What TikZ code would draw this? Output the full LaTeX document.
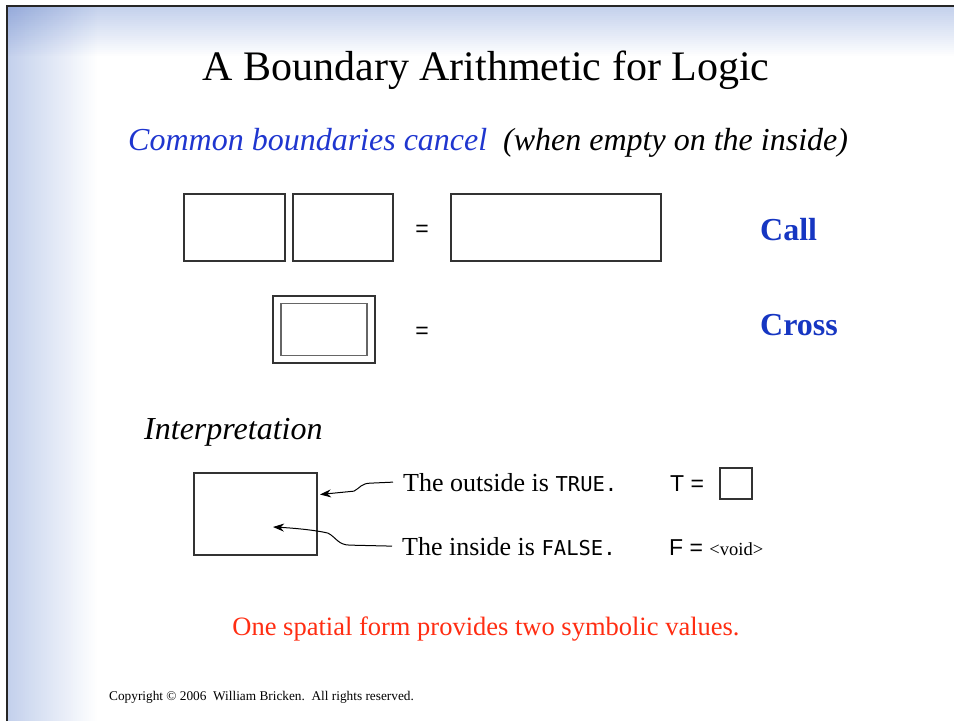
\documentclass[tikz,border=0pt]{standalone}
\usepackage{fontspec}
\setmainfont{Liberation Serif}
\setsansfont{Liberation Sans}
\setmonofont{DejaVu Sans Mono}
\usetikzlibrary{arrows.meta, positioning, calc}
\definecolor{slideblue}{HTML}{C3D0EC}
\definecolor{textblue}{HTML}{1F36CF}
\definecolor{callblue}{HTML}{1636C2}
\definecolor{notered}{HTML}{FF2D12}
\definecolor{boxgray}{HTML}{333333}

\tikzset{
  box/.style={draw=boxgray, line width=1.1pt, inner sep=0pt, outer sep=0pt},
  eqsign/.style={font=\sffamily\fontsize{23}{26}\selectfont},
  linetext/.style={font=\fontsize{26}{30}\selectfont, anchor=base west, inner xsep=10pt, inner ysep=0pt},
  pointer/.style={-{Stealth[length=11pt, width=8pt]}, line width=1pt},
}
\newcommand{\logicword}[1]{{\ttfamily\fontsize{20.5}{24}\selectfont #1}}

\begin{document}
\begin{tikzpicture}[x=1pt, y=-1pt]
  % slide background
  \useasboundingbox (0,0) rectangle (954,721);
  \foreach \i in {0,...,25} {
    \pgfmathsetmacro\p{100-\i*4}
    \fill[slideblue!\p!white] (7,6+2*\i) rectangle (954,8.6+2*\i);
  }
  \foreach \i in {0,...,45} {
    \pgfmathsetmacro\p{100-\i*100/45}
    \fill[slideblue!\p!white, blend mode=multiply] (7+2*\i,6) rectangle (9+2*\i,721);
  }
  \draw[line width=1.5pt, black!85] (7,721) -- (7,6) -- (954,6);

  % headings
  \node[font=\fontsize{42}{48}\selectfont, anchor=base] (title) at (486,80) {A Boundary Arithmetic for Logic};
  \node[font=\itshape\fontsize{32}{38}\selectfont, textblue, anchor=base west, inner sep=0pt] (rule) at (128,150) {Common boundaries cancel};
  \node[font=\itshape\fontsize{32}{38}\selectfont, anchor=base west, inner sep=0pt] (when) at (503,150) {(when empty on the inside)};

  % call
  \node[box, minimum width=101pt, minimum height=67pt, anchor=north west] (calla) at (184,194) {};
  \node[box, minimum width=100pt, minimum height=67pt, anchor=north west] (callb) at (293,194) {};
  \node[eqsign] (eqcall) at (422,231) {=};
  \node[box, minimum width=210pt, minimum height=67pt, anchor=north west] (callc) at (451,194) {};
  \node[font=\bfseries\fontsize{32}{38}\selectfont, callblue, anchor=base west, inner sep=0pt] (calltag) at (760,240) {Call};

  % cross
  \node[box, minimum width=102pt, minimum height=67pt, anchor=north west] (crossout) at (273,296) {};
  \node[box, draw=black!60, minimum width=86pt, minimum height=52pt] (crossin) at (crossout.center) {};
  \node[eqsign] (eqcross) at (422,333) {=};
  \node[font=\bfseries\fontsize{32}{38}\selectfont, callblue, anchor=base west, inner sep=0pt] (crosstag) at (760,335) {Cross};

  % interpretation
  \node[font=\itshape\fontsize{32}{38}\selectfont, anchor=base west, inner sep=0pt] (interp) at (144,439) {Interpretation};
  \node[box, minimum width=123pt, minimum height=82pt, anchor=north west] (form) at (194,473) {};
  \node[linetext] (outtext) at (393,491) {The outside is \logicword{TRUE.}};
  \node[linetext] (intext) at (392,555) {The inside is \logicword{FALSE.}};
  \node[font=\sffamily\fontsize{23}{26}\selectfont, anchor=base west, inner sep=0pt] (tval) at (670,491) {T =};
  \node[box, minimum width=32pt, minimum height=31pt, anchor=north west] (tbox) at (720,468) {};
  \node[font=\sffamily\fontsize{23}{26}\selectfont, anchor=base west, inner sep=0pt] (fval) at (669,555) {F = {\rmfamily\fontsize{18.5}{20}\selectfont <void>}};

  \coordinate (outtip) at (320,494.5);
  \coordinate (intip) at (273,527);
  \draw[pointer] (outtext.west) -- ++(-22,1) .. controls +(-10,0) and +(6,-3) .. ++(-17,8) -- (outtip);
  \draw[pointer] (intext.west) -- ++(-42,-1) .. controls +(-12,0) and +(8,4) .. ++(-22,-12)
    .. controls +(-12,-3) and +(20,1) .. (intip);

  % footer
  \node[font=\fontsize{26.5}{30}\selectfont, notered, anchor=base] (moral) at (486,635) {One spatial form provides two symbolic values.};
  \node[font=\fontsize{13.3}{16}\selectfont, anchor=base west, inner sep=0pt] (copy) at (109,700) {Copyright \textcopyright{} 2006\ \ William Bricken.\ \ All rights reserved.};
\end{tikzpicture}
\end{document}
